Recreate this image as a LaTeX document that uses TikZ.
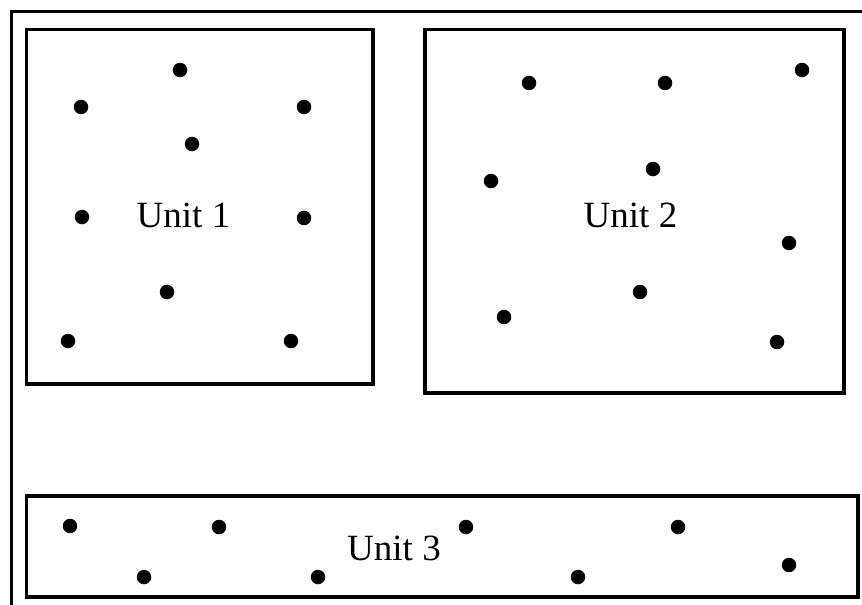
\documentclass[tikz,border=0pt]{standalone}
\usepackage{fontspec}
\setmainfont{Liberation Serif}
\begin{document}
\begin{tikzpicture}[x=1pt,y=-1pt,
  box/.style={draw,line width=3.4pt,rectangle,inner sep=0pt},
  dot/.style={circle,fill=black,inner sep=0pt,minimum size=14.5pt},
  lbl/.style={font=\fontsize{37}{40}\selectfont,inner sep=0pt,anchor=base}]
\clip (0,0) rectangle (862,605);
\coordinate (fb) at (11.5,700);
\coordinate (fc) at (11.5,11.5);
\coordinate (fr) at (900,11.5);
\draw[line width=3.4pt] (fb) -- (fc) -- (fr);
\node[box,minimum width=346.5pt,minimum height=354.5pt] (b1) at (199.75,206.75) {};
\node[box,minimum width=419pt,minimum height=363.5pt] (b2) at (634.5,211.25) {};
\node[box,minimum width=831.5pt,minimum height=101pt] (b3) at (442.25,546.5) {};
\node[lbl] (l1) at (183.5,227) {Unit 1};
\node[lbl] (l2) at (630.5,227) {Unit 2};
\node[lbl] (l3) at (394,560) {Unit 3};
% unit 1 dots
\node[dot] (a1) at (180,70) {};
\node[dot] (a2) at (81,107) {};
\node[dot] (a3) at (304,107) {};
\node[dot] (a4) at (192,144) {};
\node[dot] (a5) at (82,217) {};
\node[dot] (a6) at (304,218) {};
\node[dot] (a7) at (167,292) {};
\node[dot] (a8) at (68,341) {};
\node[dot] (a9) at (291,341) {};
% unit 2 dots
\node[dot] (b1d) at (529,83) {};
\node[dot] (b2d) at (665,83) {};
\node[dot] (b3d) at (802,70) {};
\node[dot] (b4d) at (653,169) {};
\node[dot] (b5d) at (491,181) {};
\node[dot] (b6d) at (789,243) {};
\node[dot] (b7d) at (640,292) {};
\node[dot] (b8d) at (504,317) {};
\node[dot] (b9d) at (777,342) {};
% unit 3 dots
\node[dot] (c1) at (70,526) {};
\node[dot] (c2) at (219,527) {};
\node[dot] (c3) at (466,527) {};
\node[dot] (c4) at (678,527) {};
\node[dot] (c5) at (144,577) {};
\node[dot] (c6) at (318,577) {};
\node[dot] (c7) at (578,577) {};
\node[dot] (c8) at (789,565) {};
\end{tikzpicture}
\end{document}
